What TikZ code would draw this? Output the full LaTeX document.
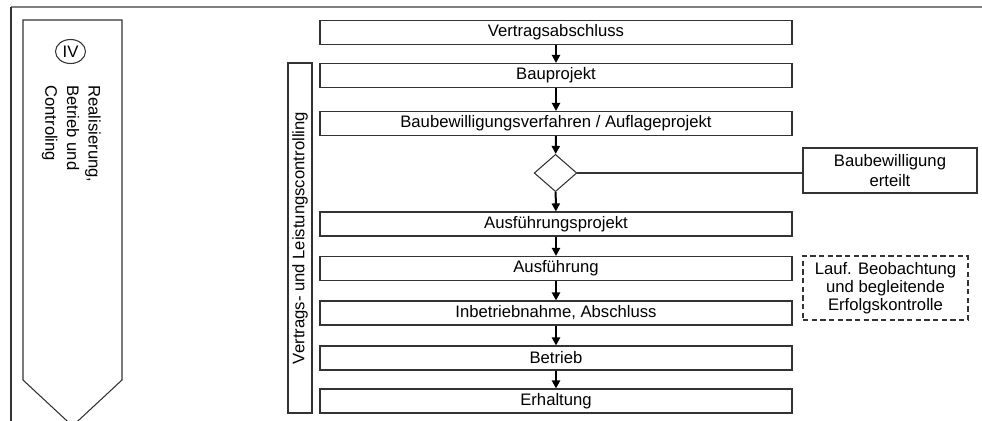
\documentclass[tikz,border=0pt]{standalone}
\usepackage{fontspec}
\setmainfont{Liberation Sans}
\usetikzlibrary{shapes.geometric,arrows.meta}
\definecolor{boxgray}{HTML}{333333}
\definecolor{framegray}{HTML}{7F7F7F}
\begin{document}
\begin{tikzpicture}[x=0.75pt,y=-0.75pt,
  every node/.style={font=\fontsize{12.5pt}{15pt}\selectfont, text=black},
  stepbox/.style={draw=boxgray, line width=0.8pt, minimum width=354pt, minimum height=18pt, inner sep=0pt},
  sidebox/.style={draw=boxgray, line width=0.8pt, align=center, inner sep=0pt},
  flow/.style={-{Triangle[length=6pt,width=6pt]}, line width=1.5pt, black},
  thinline/.style={draw=boxgray, line width=0.8pt}]
\useasboundingbox (0,0) rectangle (982,421);
% outer frame
\coordinate (fbl) at (11,421);
\coordinate (ftl) at (11,7);
\coordinate (ftr) at (982,7);
\draw[framegray, line width=1.5pt] (ftl) -- (ftr);
\draw[boxgray, line width=0.9pt] (fbl) -- (ftl);
% phase arrow
\draw[thinline] (23,20) -- (122,20) -- (122,380) -- (72.5,426) -- (23,380) -- cycle;
\node[ellipse, draw=boxgray, line width=0.8pt, minimum width=22.5pt, minimum height=18pt, inner sep=0pt] (iv) at (70.5,51.5) {IV};
\node[rotate=-90, anchor=north west, align=left, inner sep=0pt, font=\fontsize{12.5pt}{16.2pt}\selectfont] (phase) at (101,85) {Realisierung,\\Betrieb und\\Controling};
% controlling bar
\node[draw=boxgray, line width=0.8pt, rotate=90, minimum width=262.5pt, minimum height=18pt, inner sep=0pt] (ctrl) at (300,238) {Vertrags- und Leistungscontrolling};
% main flow
\node[stepbox] (b1) at (556,32.5) {Vertragsabschluss};
\node[stepbox] (b2) at (556,75.5) {Bauprojekt};
\node[stepbox] (b3) at (556,123.5) {Baubewilligungsverfahren / Auflageprojekt};
\node[diamond, draw=boxgray, line width=0.8pt, minimum width=32pt, minimum height=28pt, inner sep=0pt] (dec) at (555.5,173) {};
\node[stepbox] (b4) at (556,224) {Ausführungsprojekt};
\node[stepbox] (b5) at (556,268.5) {Ausführung};
\node[stepbox] (b6) at (556,313) {Inbetriebnahme, Abschluss};
\node[stepbox] (b7) at (556,358) {Betrieb};
\node[stepbox] (b8) at (556,401) {Erhaltung};
% side boxes
\node[sidebox, minimum width=130.5pt, minimum height=33.75pt] (erteilt) at (890,170.5) {Baubewilligung\\erteilt};
\node[sidebox, dashed, dash pattern=on 4pt off 2.5pt, minimum width=123.75pt, minimum height=48pt, font=\fontsize{12.5pt}{13.6pt}\selectfont] (lauf) at (885.5,288) {Lauf. Beobachtung\\und begleitende\\Erfolgskontrolle};
% connectors
\draw[flow] (b1) -- (b2);
\draw[flow] (b2) -- (b3);
\draw[flow] (b3) -- (dec);
\draw[flow] (dec) -- (b4);
\draw[flow] (b4) -- (b5);
\draw[flow] (b5) -- (b6);
\draw[flow] (b6) -- (b7);
\draw[flow] (b7) -- (b8);
\draw[thinline] (dec.east) -- (dec.east -| erteilt.west);
\end{tikzpicture}
\end{document}
